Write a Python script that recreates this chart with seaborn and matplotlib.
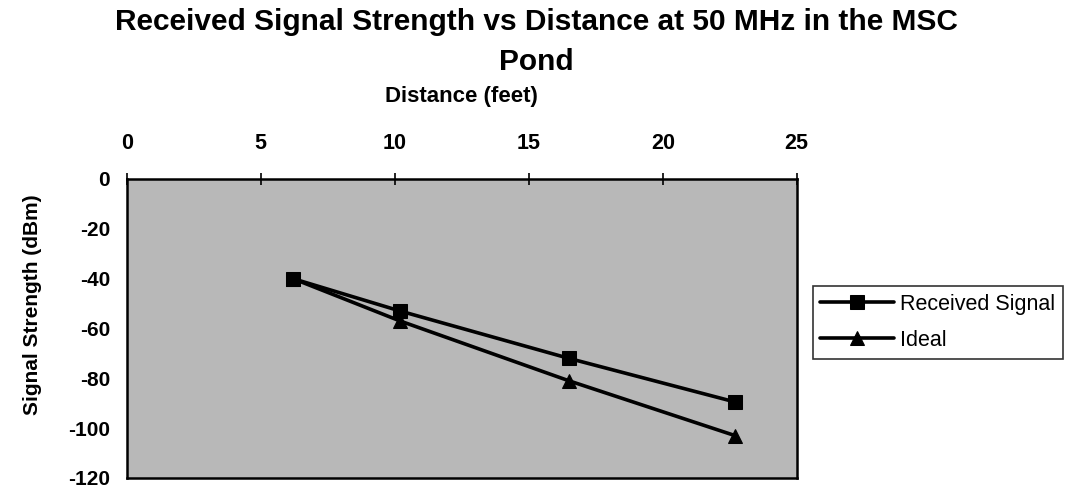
import matplotlib
matplotlib.use("Agg")
import matplotlib.pyplot as plt
import seaborn as sns
import pandas as pd

distance = [6.2, 10.2, 16.5, 22.7]
received = [-40, -53, -72, -89.5]
ideal = [-40, -57, -81, -103]
series_names = ["Received Signal", "Ideal"]
x_ticks = [0, 5, 10, 15, 20, 25]
y_ticks = [0, -20, -40, -60, -80, -100, -120]

sns.set_theme(style="white")
plt.rcParams['font.family'] = ['Liberation Sans', 'DejaVu Sans']
plt.rcParams['font.weight'] = 'bold'
plt.rcParams['axes.unicode_minus'] = False
plt.rcParams['text.color'] = 'black'
plt.rcParams['axes.labelcolor'] = 'black'
plt.rcParams['xtick.color'] = 'black'
plt.rcParams['ytick.color'] = 'black'

df = pd.DataFrame({
    "Distance": distance * 2,
    "Signal": received + ideal,
    "Series": [series_names[0]] * len(distance) + [series_names[1]] * len(distance),
})

fig = plt.figure(figsize=(10.84, 4.91), dpi=100)
ax = fig.add_axes([0.117, 0.0265, 0.618, 0.609])
ax.set_facecolor('#b8b8b8')

sns.lineplot(data=df, x="Distance", y="Signal", hue="Series", style="Series",
             markers={"Received Signal": "s", "Ideal": "^"}, dashes=False,
             palette={"Received Signal": "black", "Ideal": "black"},
             markersize=10, linewidth=2.6, markeredgecolor="black", ax=ax, legend=True)

ax.set_xlim(0, 25)
ax.set_ylim(-120, 0)
ax.set_xticks(x_ticks)
ax.set_yticks(y_ticks)
ax.xaxis.tick_top()
ax.xaxis.set_label_position('top')
ax.tick_params(axis='x', direction='inout', length=8, width=1.2, pad=14, labelsize=15.5)
ax.tick_params(axis='y', direction='inout', length=8, width=1.2, pad=8, labelsize=15)
for lbl in ax.get_xticklabels() + ax.get_yticklabels():
    lbl.set_fontweight('bold')
ax.set_xlabel("Distance (feet)", fontsize=16, fontweight='bold', labelpad=22)
ax.set_ylabel("Signal Strength (dBm)", fontsize=15, fontweight='bold')
ax.yaxis.set_label_coords(-0.127, 0.58)
for s in ax.spines.values():
    s.set_color('black')
    s.set_linewidth(1.8)

handles, labels = ax.get_legend_handles_labels()
leg = ax.legend(handles, labels, loc='center left', bbox_to_anchor=(1.024, 0.52),
                frameon=True, fancybox=False, edgecolor='black', fontsize=15.5,
                handlelength=3.4, handletextpad=0.3, borderpad=0.35, labelspacing=0.7,
                borderaxespad=0)
leg.get_frame().set_linewidth(1.2)
for t in leg.get_texts():
    t.set_fontweight('normal')

fig.suptitle("Received Signal Strength vs Distance at 50 MHz in the MSC\nPond",
             x=0.495, y=0.983, fontsize=21.5, fontweight='bold', linespacing=1.52)

fig.savefig("out.png", dpi=100)
